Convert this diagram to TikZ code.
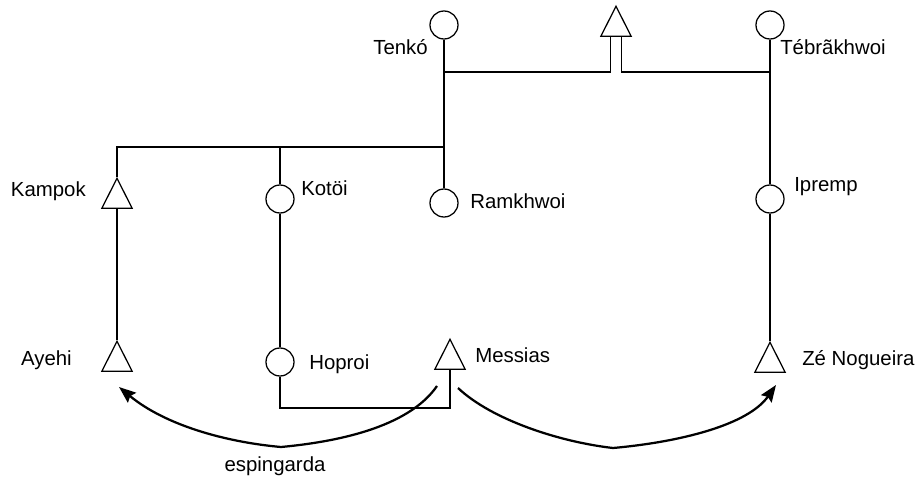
\documentclass[tikz,border=0pt]{standalone}
\usepackage{fontspec}
\setmainfont{Liberation Sans}
\usetikzlibrary{shapes.geometric, arrows.meta, calc, positioning}

\tikzset{
  fem/.style={circle, draw, line width=0.9pt, minimum size=0.7cm, inner sep=0pt},
  masc/.style={isosceles triangle, shape border rotate=90, isosceles triangle stretches,
    draw, line width=0.9pt, minimum width=0.76cm, minimum height=0.75cm, inner sep=0pt},
  kin/.style={line width=0.9pt},
  namelbl/.style={font=\fontsize{14.5}{17}\selectfont, inner sep=0pt},
  gift/.style={line width=1.6pt, -{Stealth[length=0.42cm, width=0.32cm, inset=0.06cm]}}
}

\begin{document}
\begin{tikzpicture}[x=0.025cm, y=-0.025cm]
    \useasboundingbox (0,0) rectangle (921,479);
    % top generation
    \node[fem] (tenko) at (444,25) {};
    \node[masc] (pai) at (616,27) {};
    \node[fem] (tebra) at (770,25) {};
    % middle generation
    \node[masc] (kampok) at (117,199) {};
    \node[fem] (kotoi) at (280,199) {};
    \node[fem] (ramkhwoi) at (444,203) {};
    \node[fem] (ipremp) at (770,199) {};
    % bottom generation
    \node[masc] (ayehi) at (117,362) {};
    \node[fem] (hoproi) at (280,362) {};
    \node[masc] (messias) at (450,360) {};
    \node[masc] (ze) at (770,363) {};

    % names
    \node[namelbl, anchor=east] (tenkolbl) at (428,47) {Tenkó};
    \node[namelbl, anchor=west] (tebralbl) at (780,47) {Tébrãkhwoi};
    \node[namelbl, anchor=east] (kampoklbl) at (86,191) {Kampok};
    \node[namelbl, anchor=west] (kotoilbl) at (301,188) {Kotöi};
    \node[namelbl, anchor=west] (ramkhwoilbl) at (470,201) {Ramkhwoi};
    \node[namelbl, anchor=west] (ipremplbl) at (794,187) {Ipremp};
    \node[namelbl, anchor=east] (ayehilbl) at (72,360) {Ayehi};
    \node[namelbl, anchor=west] (hoproilbl) at (309,364) {Hoproi};
    \node[namelbl, anchor=west] (messiaslbl) at (475,355) {Messias};
    \node[namelbl, anchor=west] (zelbl) at (802,360) {Zé Nogueira};
    \node[namelbl] (armalbl) at (275,466) {espingarda};

    % marriages and descent
    \coordinate (topbar) at (0,72);
    \coordinate (midbar) at (0,147);
    \coordinate (lowbar) at (0,408);
    \coordinate (pail) at ($(pai.south)+(-5.5,0)$);
    \coordinate (pair) at ($(pai.south)+(5.5,0)$);
    \draw[kin] (tenko.south) -- (ramkhwoi.north);
    \draw[kin] (tenko |- topbar) -- (pail |- topbar) -- (pail);
    \draw[kin] (pair) -- (pair |- topbar) -- (tebra |- topbar);
    \draw[kin] (tebra.south) -- (ipremp.north);
    \draw[kin] (ipremp.south) -- (ze.north);
    \draw[kin] (kampok.north) -- (kampok |- midbar) -- (tenko |- midbar);
    \draw[kin] (kotoi.north) -- (kotoi |- midbar);
    \draw[line width=1.4pt] (kampok.south) -- (ayehi.north);
    \draw[kin] (kotoi.south) -- (hoproi.north);
    \draw[kin] (hoproi.south) -- (hoproi |- lowbar) -- (messias |- lowbar) -- (messias.south);

    % the gun
    \coordinate (gunL) at (437,386);
    \coordinate (gunR) at (458,388);
    \coordinate (ayehitip) at (119,387);
    \coordinate (zetip) at (776,385);
    \draw[gift] (gunL) .. controls (408,428) and (335,442) .. (281,447)
        .. controls (225,442) and (165,425) .. (ayehitip);
    \draw[gift] (gunR) .. controls (492,420) and (560,442) .. (613,448)
        .. controls (680,442) and (748,425) .. (zetip);
\end{tikzpicture}
\end{document}
